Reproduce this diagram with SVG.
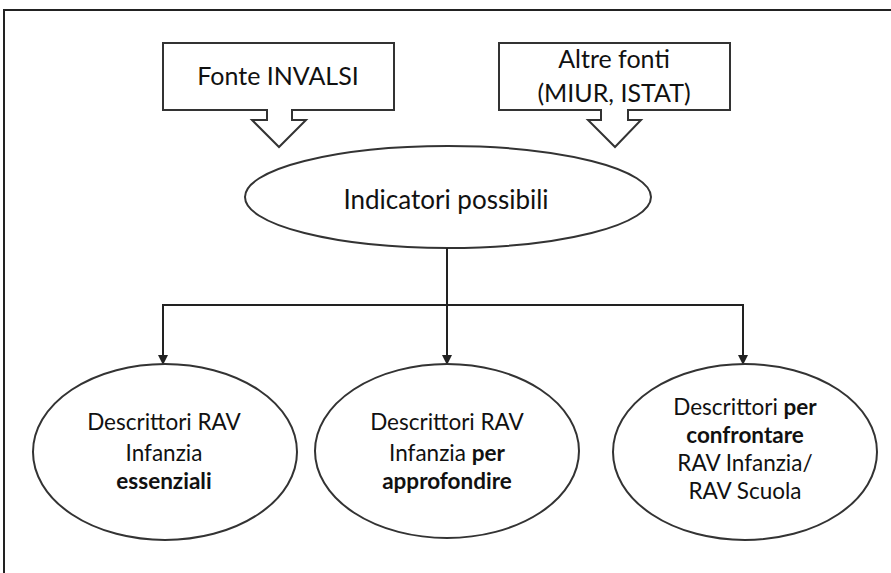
<svg xmlns="http://www.w3.org/2000/svg" width="891" height="573" viewBox="0 0 891 573">
<defs>
<style>
.shape{fill:#fff;stroke:#333;stroke-width:2}
.t{font-family:"Lato","Open Sans",sans-serif;font-size:22.5px;fill:#111;text-anchor:middle}
.top{font-size:25px}
.mid{font-size:26px}
.b{font-weight:bold}
.conn{stroke:#222;stroke-width:2;fill:none}
</style>
<marker id="ah" markerWidth="10" markerHeight="10" refX="9" refY="5" orient="auto" markerUnits="userSpaceOnUse">
<path d="M0,0 L10,5 L0,10 z" fill="#222"/>
</marker>
</defs>
<rect x="0" y="0" width="891" height="573" fill="#fff"/>
<path d="M4,573 L4,10 L891,10" fill="none" stroke="#222" stroke-width="2"/>
<g id="fonte-invalsi">
<path class="shape" d="M163,43 L394,43 L394,110 L292,110 L292,120 L306,120 L279,147 L252,120 L267,120 L267,110 L163,110 Z"/>
<text class="t top" x="278" y="85">Fonte INVALSI</text>
</g>
<g id="altre-fonti">
<path class="shape" d="M499,43 L730,43 L730,110 L628,110 L628,120 L641,120 L615,147 L588,120 L601,120 L601,110 L499,110 Z"/>
<text class="t top" x="614" y="68">Altre fonti</text>
<text class="t top" x="614" y="102">(MIUR, ISTAT)</text>
</g>
<g id="indicatori">
<ellipse class="shape" cx="448" cy="197" rx="203" ry="51"/>
<text class="t mid" x="446" y="209">Indicatori possibili</text>
</g>
<g id="connectors">
<line class="conn" x1="447" y1="248" x2="447" y2="305"/>
<line class="conn" x1="163" y1="305" x2="743" y2="305"/>
<line class="conn" x1="163" y1="304" x2="163" y2="364" marker-end="url(#ah)"/>
<line class="conn" x1="447" y1="305" x2="447" y2="364" marker-end="url(#ah)"/>
<line class="conn" x1="743" y1="304" x2="743" y2="364" marker-end="url(#ah)"/>
</g>
<g id="essenziali">
<ellipse class="shape" cx="165" cy="452" rx="132" ry="88"/>
<text class="t" x="164" y="430">Descrittori RAV</text>
<text class="t" x="164" y="461">Infanzia</text>
<text class="t b" x="164" y="489">essenziali</text>
</g>
<g id="approfondire">
<ellipse class="shape" cx="447" cy="451" rx="132" ry="87"/>
<text class="t" x="447" y="430">Descrittori RAV</text>
<text class="t" x="447" y="461">Infanzia <tspan class="b">per</tspan></text>
<text class="t b" x="447" y="489">approfondire</text>
</g>
<g id="confrontare">
<ellipse class="shape" cx="745" cy="452" rx="132" ry="88"/>
<text class="t" x="745" y="415">Descrittori <tspan class="b">per</tspan></text>
<text class="t b" x="745" y="443">confrontare</text>
<text class="t" x="745" y="471">RAV Infanzia/</text>
<text class="t" x="745" y="499">RAV Scuola</text>
</g>
</svg>
